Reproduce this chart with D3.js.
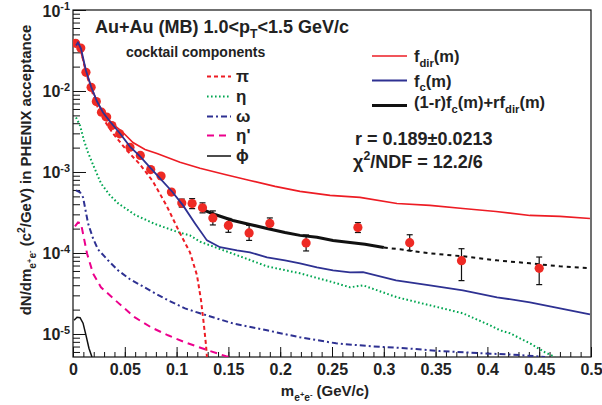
<!DOCTYPE html>
<html>
<head>
<meta charset="utf-8">
<script src="https://cdn.jsdelivr.net/npm/d3@7"></script>
<style>
  body { margin: 0; background: #fff; }
  text { font-family: "Liberation Sans", Arial, sans-serif; font-weight: bold; fill: #222; }
</style>
</head>
<body>
<div id="chart"></div>
<script>
// Measured dielectron yield (data points)
const dataMass = [0.0025, 0.0075, 0.0125, 0.0175, 0.0225, 0.0275, 0.0325, 0.0375, 0.045, 0.055, 0.065,
  0.075, 0.085, 0.095, 0.105, 0.115, 0.125, 0.135, 0.15, 0.17, 0.19, 0.225, 0.275, 0.325, 0.375, 0.45];
const dataYield = [0.0388, 0.0339, 0.0170, 0.0111, 0.00741, 0.00547, 0.00477, 0.00375, 0.00296, 0.00202, 0.00160,
  0.00107, 0.000893, 0.000565, 0.000413, 0.000407, 0.000361, 0.000271, 0.000219, 0.000177, 0.000232,
  0.000133, 0.000206, 0.000134, 0.0000805, 0.0000647];
const dataErrLow = [null, null, null, null, null, null, null, null, null, null, null, null, null, null,
  0.000369, 0.000353, 0.000313, 0.000222, 0.000180, 0.000143, 0.000198, 0.000106, 0.000179, 0.000107, 0.0000456, 0.0000407];
const dataErrHigh = [null, null, null, null, null, null, null, null, null, null, null, null, null, null,
  0.000463, 0.000469, 0.000416, 0.000331, 0.000267, 0.000219, 0.000271, 0.000167, 0.000237, 0.000168, 0.000113, 0.0000892];

// Fit functions [mass, yield]
const fDir = [[0.0029, 0.0396], [0.0068, 0.0334], [0.0125, 0.0179], [0.0174, 0.01135], [0.0232, 0.00741],
  [0.029, 0.00542], [0.0376, 0.00397], [0.0473, 0.00316], [0.0579, 0.00231], [0.0695, 0.00190],
  [0.0811, 0.00169], [0.1033, 0.00132], [0.1226, 0.00111], [0.1467, 0.000933], [0.1708, 0.000787],
  [0.195, 0.000664], [0.2191, 0.000576], [0.2481, 0.000514], [0.277, 0.000486], [0.3127, 0.000409],
  [0.3446, 0.000387], [0.3764, 0.000355], [0.4083, 0.000326], [0.4411, 0.000291], [0.4701, 0.000283],
  [0.499, 0.000267]];
const fC = [[0.0029, 0.0364], [0.0048, 0.0396], [0.0077, 0.0334], [0.0125, 0.0179], [0.0174, 0.01135],
  [0.0232, 0.00741], [0.029, 0.00542], [0.0357, 0.0042], [0.0454, 0.00299], [0.055, 0.00206],
  [0.0647, 0.00156], [0.0743, 0.00114], [0.084, 0.000833], [0.0956, 0.000575], [0.1062, 0.000387],
  [0.1178, 0.000232], [0.1293, 0.000143], [0.1419, 0.000118], [0.1583, 0.000108], [0.1708, 0.000102],
  [0.1873, 0.0000883], [0.2046, 0.0000811], [0.2191, 0.0000745], [0.2355, 0.0000665], [0.251, 0.0000611],
  [0.2674, 0.0000577], [0.2799, 0.0000582], [0.3118, 0.000046], [0.3446, 0.0000399], [0.3764, 0.0000346],
  [0.4093, 0.0000284], [0.4411, 0.0000246], [0.4701, 0.0000207], [0.499, 0.0000175]];
const fCombined = [[0.1226, 0.000354], [0.137, 0.000299], [0.1544, 0.000252], [0.1708, 0.000225],
  [0.1873, 0.000201], [0.2046, 0.000179], [0.2191, 0.000165], [0.2355, 0.000156], [0.251, 0.000143],
  [0.2674, 0.000135], [0.2819, 0.000128], [0.3, 0.000117], [0.3156, 0.000111], [0.3446, 0.000099],
  [0.3764, 0.000091], [0.4093, 0.0000811], [0.4411, 0.0000745], [0.4701, 0.0000684], [0.499, 0.0000647]];

// Cocktail components [mass, yield]
const cocktailPi = [[0.0029, 0.0374], [0.0077, 0.0316], [0.0125, 0.0169], [0.0174, 0.0107], [0.0232, 0.00661],
  [0.029, 0.00457], [0.0386, 0.00299], [0.0521, 0.00184], [0.0647, 0.00124], [0.0772, 0.000764],
  [0.0907, 0.000376], [0.1033, 0.000175], [0.1129, 0.000102], [0.1197, 0.000053], [0.1236, 0.000026],
  [0.1264, 0.0000128], [0.1284, 0.00000726], [0.1293, 0.0000052]];
const cocktailEta = [[0.0029, 0.00471], [0.0068, 0.00375], [0.0106, 0.00245], [0.0145, 0.00174],
  [0.0203, 0.00115], [0.0271, 0.00072], [0.0357, 0.000514], [0.0434, 0.000412], [0.0598, 0.000296],
  [0.0792, 0.000228], [0.1014, 0.000181], [0.1129, 0.000165], [0.1226, 0.000138], [0.1419, 0.000112],
  [0.1612, 0.0000910], [0.1873, 0.0000684], [0.2191, 0.0000561], [0.251, 0.0000435], [0.2674, 0.0000377],
  [0.2799, 0.0000399], [0.3127, 0.0000284], [0.3446, 0.0000226], [0.3764, 0.000018], [0.4025, 0.0000128],
  [0.4122, 0.0000111], [0.4218, 0.0000102], [0.4411, 0.00000767], [0.4556, 0.00000594], [0.4653, 0.0000052]];
const cocktailOmega = [[0.0029, 0.000594], [0.0068, 0.000561], [0.0097, 0.000487], [0.0145, 0.000233],
  [0.0193, 0.000152], [0.0241, 0.000111], [0.0338, 0.0000813], [0.0434, 0.0000612], [0.055, 0.0000474],
  [0.0656, 0.0000399], [0.0792, 0.0000318], [0.0917, 0.0000261], [0.1081, 0.0000207], [0.1226, 0.000018],
  [0.1544, 0.0000135], [0.1873, 0.0000111], [0.2191, 0.0000091], [0.2539, 0.00000767], [0.2876, 0.00000706],
  [0.3205, 0.00000667], [0.3542, 0.00000615], [0.3928, 0.0000058], [0.4311, 0.0000055], [0.4556, 0.0000052]];
const cocktailEtaPrime = [[0.0019, 0.000213], [0.0048, 0.000239], [0.0077, 0.000232], [0.0106, 0.000152],
  [0.0135, 0.0000991], [0.0193, 0.0000561], [0.027, 0.0000377], [0.0434, 0.0000244], [0.0598, 0.000016],
  [0.0753, 0.0000121], [0.0917, 0.00000964], [0.1081, 0.0000079], [0.1274, 0.00000647], [0.1477, 0.00000531],
  [0.1515, 0.0000052]];
const cocktailPhi = [[0.001, 0.0000148], [0.0039, 0.0000161], [0.0068, 0.0000159], [0.0097, 0.0000136],
  [0.0125, 0.00000967], [0.0154, 0.00000668], [0.0183, 0.0000052]];

// Axis ticks
const xMajorTicks = [0, 0.05, 0.1, 0.15, 0.2, 0.25, 0.3, 0.35, 0.4, 0.45, 0.5];
const yMajorExponents = [-5, -4, -3, -2, -1];

const width = 602, height = 405;
const marginLeft = 73, marginRight = 11, marginTop = 10, marginBottom = 48;

const x = d3.scaleLinear().domain([0, 0.5]).range([marginLeft, width - marginRight]);
const y = d3.scaleLog().domain([5.2e-6, 0.1]).range([height - marginBottom, marginTop]);

const svg = d3.select("#chart").append("svg")
  .attr("width", width).attr("height", height)
  .attr("viewBox", [0, 0, width, height]);

svg.append("clipPath").attr("id", "clip")
  .append("rect")
  .attr("x", marginLeft).attr("y", marginTop)
  .attr("width", width - marginLeft - marginRight)
  .attr("height", height - marginTop - marginBottom);

// text with sub/superscripts
const levels = { n: [0, 1], sub: [0.3, 0.68], sup: [-0.42, 0.68], subsup: [0.05, 0.5] };
function rich(sel, parts, size) {
  let shift = 0;
  parts.forEach(([t, k]) => {
    const [dy, s] = levels[k];
    sel.append("tspan")
      .attr("dy", (dy - shift) * size)
      .attr("font-size", s * size)
      .text(t);
    shift = dy;
  });
  return sel;
}

// X axis
const xMinor = d3.range(0, 0.5001, 0.01);
svg.append("g")
  .attr("transform", `translate(0,${height - marginBottom})`)
  .call(d3.axisBottom(x).tickValues(xMinor).tickSize(-5).tickFormat(""))
  .call(g => g.select(".domain").remove())
  .call(g => g.selectAll("line").attr("stroke", "#111"));
svg.append("g")
  .attr("transform", `translate(0,${height - marginBottom})`)
  .call(d3.axisBottom(x).tickValues(xMajorTicks).tickSize(-10).tickPadding(6).tickFormat(d => String(d)))
  .call(g => g.select(".domain").remove())
  .call(g => g.selectAll("line").attr("stroke", "#111"))
  .call(g => g.selectAll("text")
    .attr("font-size", 16).attr("font-family", "Liberation Sans, Arial, sans-serif")
    .attr("font-weight", "bold").attr("fill", "#222").attr("dy", "0.72em"));

// Y axis
const yMinor = [];
for (let e = -6; e <= -2; e++) for (let k = 2; k <= 9; k++) {
  const v = k * Math.pow(10, e);
  if (v >= 5.2e-6 && v < 0.1) yMinor.push(v);
}
svg.append("g")
  .attr("transform", `translate(${marginLeft},0)`)
  .call(d3.axisLeft(y).tickValues(yMinor).tickSize(-7).tickFormat(""))
  .call(g => g.select(".domain").remove())
  .call(g => g.selectAll("line").attr("stroke", "#111"));
const yAxis = svg.append("g")
  .attr("transform", `translate(${marginLeft},0)`)
  .call(d3.axisLeft(y).tickValues(yMajorExponents.map(e => Math.pow(10, e))).tickSize(-13).tickFormat(""))
  .call(g => g.select(".domain").remove())
  .call(g => g.selectAll("line").attr("stroke", "#111"));
yAxis.selectAll(".tick").each(function(d) {
  const t = d3.select(this).append("text")
    .attr("x", -3).attr("y", 6).attr("text-anchor", "end").attr("font-size", 16);
  rich(t, [["10", "n"], [String(Math.round(Math.log10(d))), "sup"]], 16);
});

// frame
svg.append("rect")
  .attr("x", marginLeft).attr("y", marginTop)
  .attr("width", width - marginLeft - marginRight)
  .attr("height", height - marginTop - marginBottom)
  .attr("fill", "none").attr("stroke", "#111").attr("stroke-width", 1.2);

// curves
const line = d3.line().x(d => x(d[0])).y(d => y(d[1]));
const plot = svg.append("g").attr("clip-path", "url(#clip)");

const curves = [
  { data: cocktailPhi, color: "#111", width: 1.5, dash: null },
  { data: cocktailEtaPrime, color: "#ec008c", width: 2, dash: "7,5" },
  { data: cocktailOmega, color: "#2e3192", width: 2, dash: "6,3,2,3" },
  { data: cocktailEta, color: "#00a651", width: 2, dash: "1.6,2.4" },
  { data: cocktailPi, color: "#ed1c24", width: 2, dash: "4,3" },
  { data: fDir, color: "#ed1c24", width: 1.6, dash: null },
  { data: fCombined.filter(d => d[0] <= 0.3), color: "#111", width: 3, dash: null },
  { data: fCombined.filter(d => d[0] >= 0.3), color: "#111", width: 2, dash: "4,4" }
];
plot.selectAll("path.curve")
  .data(curves)
  .join("path")
  .attr("class", "curve")
  .attr("fill", "none")
  .attr("stroke", d => d.color)
  .attr("stroke-width", d => d.width)
  .attr("stroke-dasharray", d => d.dash)
  .attr("d", d => line(d.data));

// data points
const points = dataMass.map((m, i) => ({ m, v: dataYield[i], lo: dataErrLow[i], hi: dataErrHigh[i] }));
const errs = plot.append("g").attr("stroke", "#111").attr("stroke-width", 1.2)
  .selectAll("g").data(points.filter(d => d.lo !== null)).join("g");
errs.append("line")
  .attr("x1", d => x(d.m)).attr("x2", d => x(d.m))
  .attr("y1", d => y(d.lo)).attr("y2", d => y(d.hi));
errs.append("line")
  .attr("x1", d => x(d.m) - 3).attr("x2", d => x(d.m) + 3)
  .attr("y1", d => y(d.lo)).attr("y2", d => y(d.lo));
errs.append("line")
  .attr("x1", d => x(d.m) - 3).attr("x2", d => x(d.m) + 3)
  .attr("y1", d => y(d.hi)).attr("y2", d => y(d.hi));
plot.append("g")
  .selectAll("circle").data(points).join("circle")
  .attr("cx", d => x(d.m)).attr("cy", d => y(d.v))
  .attr("r", 4.6).attr("fill", "#ee2a24");

// f_c drawn over the points
plot.append("path")
  .attr("fill", "none").attr("stroke", "#2e3192").attr("stroke-width", 1.8)
  .attr("d", line(fC));

// title and annotations
rich(svg.append("text").attr("x", 95).attr("y", 33).attr("font-size", 18),
  [["Au+Au (MB) 1.0<p", "n"], ["T", "sub"], ["<1.5 GeV/c", "n"]], 18);
svg.append("text").attr("x", 126).attr("y", 57).attr("font-size", 14).text("cocktail components");

const cocktailLegend = [
  { label: "\u03c0", color: "#ed1c24", width: 2, dash: "4,3", y: 76.5 },
  { label: "\u03b7", color: "#00a651", width: 2, dash: "1.6,2.4", y: 96.5 },
  { label: "\u03c9", color: "#2e3192", width: 2, dash: "6,3,2,3", y: 116.5 },
  { label: "\u03b7'", color: "#ec008c", width: 2, dash: "7,5", y: 135.5 },
  { label: "\u03d5", color: "#111", width: 1.5, dash: null, y: 156 }
];
const cl = svg.append("g").selectAll("g").data(cocktailLegend).join("g");
cl.append("line")
  .attr("x1", 207).attr("x2", 231).attr("y1", d => d.y).attr("y2", d => d.y)
  .attr("stroke", d => d.color).attr("stroke-width", d => d.width).attr("stroke-dasharray", d => d.dash);
cl.append("text")
  .attr("x", 236).attr("y", d => d.y + 5)
  .attr("font-family", "Liberation Serif, serif").attr("font-weight", "normal")
  .attr("font-size", 17).text(d => d.label);

const fitLegend = [
  { parts: [["f", "n"], ["dir", "sub"], ["(m)", "n"]], color: "#ed1c24", width: 1.6, y: 56, base: 62 },
  { parts: [["f", "n"], ["c", "sub"], ["(m)", "n"]], color: "#2e3192", width: 1.8, y: 80.5, base: 86.5 },
  { parts: [["(1-r)f", "n"], ["c", "sub"], ["(m)+rf", "n"], ["dir", "sub"], ["(m)", "n"]], color: "#111", width: 3, y: 105.5, base: 108 }
];
fitLegend.forEach(d => {
  svg.append("line")
    .attr("x1", 372).attr("x2", 407).attr("y1", d.y).attr("y2", d.y)
    .attr("stroke", d.color).attr("stroke-width", d.width);
  rich(svg.append("text").attr("x", 414).attr("y", d.base).attr("font-size", 16.5), d.parts, 16.5);
});

svg.append("text").attr("x", 355).attr("y", 145).attr("font-size", 18).text("r = 0.189\u00b10.0213");
rich(svg.append("text").attr("x", 353).attr("y", 168).attr("font-size", 18),
  [["\u03c7", "n"], ["2", "sup"], ["/NDF = 12.2/6", "n"]], 18);

// axis titles
rich(svg.append("text").attr("x", 325).attr("y", 396).attr("text-anchor", "middle").attr("font-size", 15),
  [["m", "n"], ["e", "sub"], ["+", "subsup"], ["e", "sub"], ["-", "subsup"], [" (GeV/c)", "n"]], 15);
rich(svg.append("text")
    .attr("transform", "translate(31,170) rotate(-90)")
    .attr("text-anchor", "middle").attr("font-size", 15),
  [["dN/dm", "n"], ["e", "sub"], ["+", "subsup"], ["e", "sub"], ["-", "subsup"],
   [" (c", "n"], ["2", "sup"], ["/GeV) in PHENIX acceptance", "n"]], 15);
</script>
</body>
</html>
